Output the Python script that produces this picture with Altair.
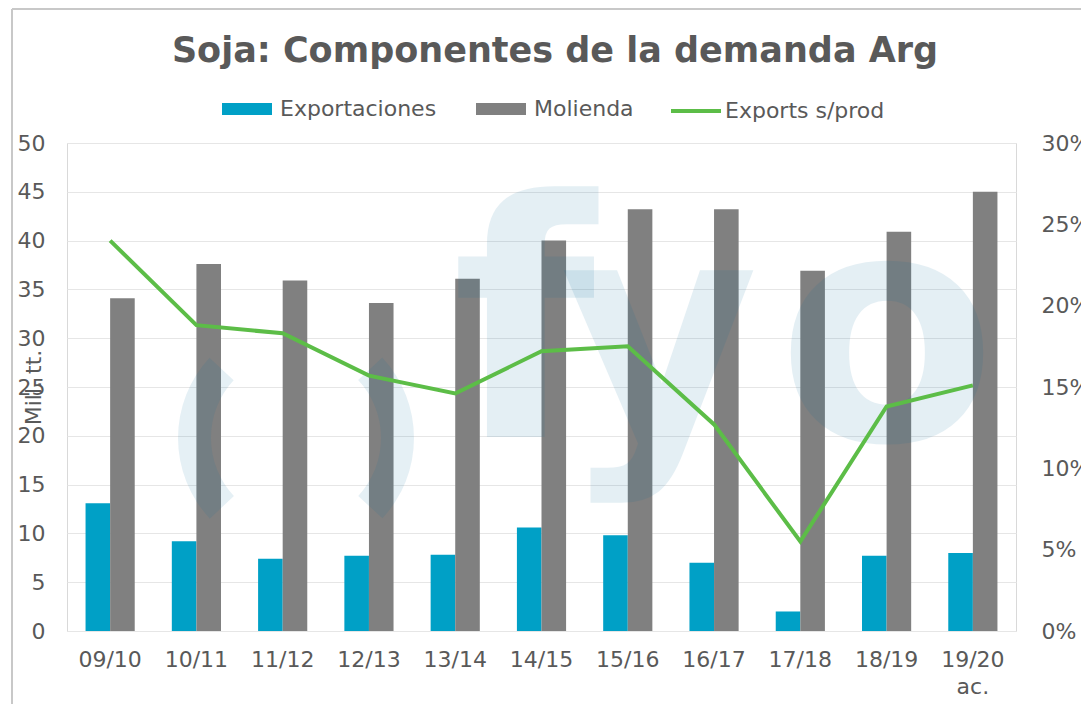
import altair as alt
import pandas as pd

seasons = ["09/10", "10/11", "11/12", "12/13", "13/14", "14/15",
           "15/16", "16/17", "17/18", "18/19", "19/20 ac."]
exportaciones = [13.1, 9.2, 7.4, 7.7, 7.8, 10.6, 9.8, 7.0, 2.0, 7.7, 8.0]
molienda = [34.1, 37.6, 35.9, 33.6, 36.1, 40.0, 43.2, 43.2, 36.9, 40.9, 45.0]
exports_s_prod = [0.240, 0.188, 0.183, 0.157, 0.146, 0.172, 0.175, 0.127, 0.055, 0.138, 0.151]

bar_series = ["Exportaciones", "Molienda"]
bar_colors = ["#00A0C6", "#808080"]
line_series = ["Exports s/prod"]
line_colors = ["#5CBD47"]

bars_df = pd.DataFrame(
    [{"season": s, "serie": "Exportaciones", "value": v} for s, v in zip(seasons, exportaciones)]
    + [{"season": s, "serie": "Molienda", "value": v} for s, v in zip(seasons, molienda)]
)
line_df = pd.DataFrame({"season": seasons, "pct": exports_s_prod,
                        "serie": line_series * len(seasons)})

FONT = "DejaVu Sans"
TXT = "#595959"
WM = "rgb(0,105,155)"
WM_OP = 0.1

x_axis = alt.Axis(title=None, labelAngle=0, labelPadding=18, labelBaseline="top",
                  labelExpr="split(datum.label, ' ')", labelLineHeight=27)
x_scale = alt.Scale(paddingInner=0.43, paddingOuter=0.215)

one = alt.Data(values=[{"k": 1}])

border_v = alt.Chart(one).mark_rule(color="#C8C8C8", strokeWidth=2).encode(
    x=alt.value(-55), y=alt.value(-134), y2=alt.value(700))
border_h = alt.Chart(one).mark_rule(color="#C8C8C8", strokeWidth=2).encode(
    x=alt.value(-55), x2=alt.value(1100), y=alt.value(-134))

bar_legend = alt.Legend(
    title=None, orient="none", legendX=155, legendY=-59, direction="horizontal",
    symbolType="M-1,-0.24L1,-0.24L1,0.24L-1,0.24Z",
    symbolSize=2500, symbolStrokeWidth=0, labelFont=FONT, labelFontSize=22,
    labelColor=TXT, labelOffset=8, columnPadding=39,
)
line_legend = alt.Legend(
    title=None, orient="none", legendX=602, legendY=-59, direction="horizontal",
    symbolType="stroke", symbolSize=2500, symbolStrokeWidth=4,
    labelFont=FONT, labelFontSize=22, labelColor=TXT, labelOffset=2,
)

bars = alt.Chart(bars_df).mark_bar().encode(
    x=alt.X("season:N", sort=seasons, scale=x_scale, axis=x_axis),
    xOffset=alt.XOffset("serie:N", sort=bar_series,
                        scale=alt.Scale(paddingInner=0, paddingOuter=0)),
    y=alt.Y("value:Q", scale=alt.Scale(domain=[0, 50], nice=False),
            axis=alt.Axis(values=list(range(0, 55, 5)), grid=True, gridColor="#E6E6E6",
                          labelPadding=22, title="Mill. tt.", titleFont=FONT,
                          titleFontSize=22, titleFontWeight="normal", titleColor=TXT,
                          titleAngle=270, titleX=-34, titleY=244, titleAlign="center",
                          titleBaseline="middle")),
    color=alt.Color("serie:N", scale=alt.Scale(domain=bar_series, range=bar_colors),
                    legend=bar_legend),
)

arc_l = alt.Chart(one).mark_arc(color=WM, opacity=WM_OP).encode(
    x=alt.value(229), y=alt.value(295), radius=alt.value(118), radius2=alt.value(85),
    theta=alt.value(3.96), theta2=alt.value(5.46))
arc_r = alt.Chart(one).mark_arc(color=WM, opacity=WM_OP).encode(
    x=alt.value(229), y=alt.value(295), radius=alt.value(118), radius2=alt.value(85),
    theta=alt.value(0.82), theta2=alt.value(2.32))
wm_f = alt.Chart(one).mark_text(text="f", font=FONT, fontWeight="bold", fontSize=330,
                                align="left", baseline="alphabetic", color=WM, opacity=WM_OP
                                ).encode(x=alt.value(385), y=alt.value(294))
wm_y = alt.Chart(one).mark_text(text="y", font=FONT, fontWeight="bold", fontSize=305,
                                align="left", baseline="alphabetic", color=WM, opacity=WM_OP
                                ).encode(x=alt.value(493), y=alt.value(294))
wm_o = alt.Chart(one).mark_text(text="o", font=FONT, fontWeight="bold", fontSize=320,
                                align="center", baseline="alphabetic", color=WM, opacity=WM_OP
                                ).encode(x=alt.value(820), y=alt.value(297))

line = alt.Chart(line_df).mark_line(strokeWidth=4).encode(
    x=alt.X("season:N", sort=seasons, scale=x_scale, axis=x_axis, bandPosition=0.5),
    y=alt.Y("pct:Q", scale=alt.Scale(domain=[0, 0.3], nice=False),
            axis=alt.Axis(orient="right", format=".0%",
                          values=[0, 0.05, 0.10, 0.15, 0.20, 0.25, 0.30],
                          grid=False, labelPadding=25, title=None)),
    stroke=alt.Stroke("serie:N", scale=alt.Scale(domain=line_series, range=line_colors),
                      legend=line_legend),
)

title = alt.Chart(one).mark_text(text="Soja: Componentes de la demanda Arg", font=FONT,
                                 fontWeight="bold", fontSize=35, color=TXT, align="center",
                                 baseline="alphabetic").encode(x=alt.value(488), y=alt.value(-81))

chart = alt.layer(border_v, border_h, bars, arc_l, arc_r, wm_f, wm_y, wm_o, line, title
                  ).resolve_scale(y="independent").properties(
    width=949, height=488,
    autosize=alt.AutoSizeParams(type="none"),
    padding={"left": 59, "top": 135, "right": 65, "bottom": 73},
    background="white",
).configure_view(stroke="#D9D9D9").configure_axis(
    labelFont=FONT, labelFontSize=22, labelColor=TXT, domain=False, ticks=False, tickSize=0
)

chart.save("out.html", embed_options={"renderer": "svg", "actions": False})
